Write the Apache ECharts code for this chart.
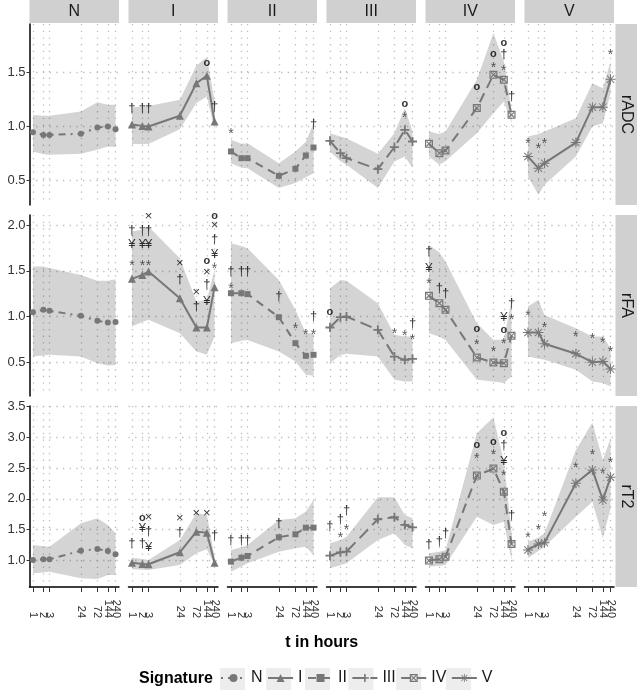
<!DOCTYPE html>
<html><head><meta charset="utf-8">
<script src="https://cdn.jsdelivr.net/npm/echarts@6/dist/echarts.min.js"></script>
<style>html,body{margin:0;padding:0;background:#fff}#c{width:638px;height:695px}</style>
</head><body><div id="c"></div><script>
// ---------- data ----------
const hours = [1, 2, 3, 24, 72, 144, 240];
const hourLabels = ['1', '2', '3', '24', '72', '144', '240'];
const signatures = ['N', 'I', 'II', 'III', 'IV', 'V'];
const measures = ['rADC', 'rFA', 'rT2'];
const rADC_ticks = [0.5, 1.0, 1.5];
const rFA_ticks = [0.5, 1.0, 1.5, 2.0];
const rT2_ticks = [1.0, 1.5, 2.0, 2.5, 3.0, 3.5];

// mean / lower / upper per signature (rows: N, I, II, III, IV, V)
const rADC_mean = [
  [0.948, 0.923, 0.923, 0.933, 0.990, 1.000, 0.976],
  [1.018, 1.006, 1.000, 1.100, 1.400, 1.468, 1.046],
  [0.770, 0.708, 0.708, 0.545, 0.610, 0.733, 0.806],
  [0.868, 0.754, 0.708, 0.607, 0.810, 0.970, 0.862],
  [0.840, 0.754, 0.779, 1.170, 1.477, 1.431, 1.108],
  [0.723, 0.616, 0.662, 0.852, 1.179, 1.179, 1.437]];
const rADC_lo = [
  [0.770, 0.745, 0.739, 0.748, 0.785, 0.815, 0.810],
  [0.838, 0.838, 0.838, 0.976, 1.216, 1.277, 0.970],
  [0.662, 0.620, 0.616, 0.432, 0.478, 0.533, 0.570],
  [0.770, 0.680, 0.647, 0.432, 0.677, 0.723, 0.616],
  [0.723, 0.647, 0.680, 0.939, 1.123, 1.230, 1.030],
  [0.539, 0.370, 0.462, 0.723, 1.000, 1.031, 1.308]];
const rADC_hi = [
  [1.107, 1.100, 1.099, 1.138, 1.225, 1.200, 1.200],
  [1.179, 1.185, 1.190, 1.246, 1.563, 1.640, 1.240],
  [0.877, 0.840, 0.846, 0.662, 0.770, 0.860, 1.030],
  [0.939, 0.908, 0.893, 0.748, 0.939, 1.170, 0.954],
  [0.954, 0.930, 0.954, 1.431, 1.862, 1.600, 1.154],
  [0.908, 0.930, 0.954, 1.077, 1.400, 1.354, 1.600]];

const rFA_mean = [
  [1.048, 1.073, 1.062, 1.008, 0.953, 0.935, 0.940],
  [1.412, 1.455, 1.491, 1.200, 0.880, 0.880, 1.321],
  [1.255, 1.255, 1.245, 0.993, 0.709, 0.571, 0.582],
  [0.880, 0.993, 1.000, 0.855, 0.563, 0.527, 0.538],
  [1.226, 1.146, 1.073, 0.553, 0.498, 0.491, 0.789],
  [0.825, 0.825, 0.702, 0.593, 0.502, 0.509, 0.426]];
const rFA_lo = [
  [0.563, 0.575, 0.582, 0.563, 0.491, 0.465, 0.470],
  [0.891, 0.940, 0.964, 0.818, 0.618, 0.582, 0.780],
  [0.709, 0.735, 0.745, 0.618, 0.509, 0.364, 0.353],
  [0.491, 0.580, 0.593, 0.563, 0.309, 0.290, 0.290],
  [0.818, 0.780, 0.745, 0.309, 0.290, 0.273, 0.345],
  [0.563, 0.540, 0.527, 0.418, 0.290, 0.273, 0.236]];
const rFA_hi = [
  [1.546, 1.546, 1.530, 1.455, 1.390, 1.390, 1.408],
  [1.928, 1.950, 1.983, 1.637, 1.164, 1.182, 1.510],
  [1.801, 1.770, 1.747, 1.400, 1.073, 0.818, 0.818],
  [1.310, 1.400, 1.390, 1.146, 0.800, 0.782, 0.782],
  [1.783, 1.700, 1.600, 0.927, 0.746, 0.746, 1.182],
  [1.109, 1.182, 1.018, 0.873, 0.782, 0.782, 0.655]];

const rT2_mean = [
  [1.005, 1.016, 1.016, 1.156, 1.184, 1.151, 1.098],
  [0.961, 0.940, 0.935, 1.130, 1.466, 1.450, 0.961],
  [0.978, 1.042, 1.070, 1.375, 1.423, 1.531, 1.531],
  [1.075, 1.130, 1.140, 1.668, 1.700, 1.575, 1.537],
  [0.995, 1.016, 1.059, 2.378, 2.492, 2.117, 1.265],
  [1.168, 1.265, 1.287, 2.254, 2.471, 1.982, 2.352]];
const rT2_lo = [
  [0.788, 0.800, 0.815, 0.707, 0.695, 0.760, 0.760],
  [0.853, 0.845, 0.842, 0.923, 1.114, 1.179, 0.923],
  [0.815, 0.900, 0.951, 1.140, 1.195, 1.222, 1.086],
  [0.870, 0.920, 0.951, 1.330, 1.440, 1.249, 1.195],
  [0.896, 0.910, 0.923, 1.710, 1.575, 1.629, 1.000],
  [1.033, 1.150, 1.222, 1.710, 1.954, 1.358, 1.847]];
const rT2_hi = [
  [1.249, 1.230, 1.222, 1.603, 1.684, 1.575, 1.440],
  [1.042, 1.020, 1.005, 1.330, 1.765, 1.738, 1.060],
  [1.168, 1.210, 1.249, 1.656, 1.684, 1.792, 1.982],
  [1.277, 1.330, 1.384, 2.026, 2.026, 1.738, 1.684],
  [1.114, 1.140, 1.168, 3.068, 3.329, 2.606, 1.450],
  [1.303, 1.370, 1.440, 2.796, 3.241, 2.633, 2.987]];

// significance marks: [signature index, hour index, y, symbol]
const rADC_marks = [
  [1,0,1.17,'†'],[1,1,1.17,'†'],[1,2,1.17,'†'],[1,5,1.585,'o'],[1,6,1.185,'†'],
  [2,0,0.954,'*'],[2,6,1.016,'†'],
  [3,5,1.108,'*'],[3,5,1.21,'o'],
  [4,3,1.363,'o'],[4,4,1.569,'*'],[4,4,1.67,'o'],[4,5,1.539,'*'],[4,5,1.661,'†'],[4,5,1.775,'o'],[4,6,1.277,'†'],
  [5,0,0.868,'*'],[5,1,0.822,'*'],[5,2,0.868,'*'],[5,6,1.683,'*']];
const rFA_marks = [
  [1,0,1.583,'*'],[1,0,1.783,'¥'],[1,0,1.946,'†'],
  [1,1,1.583,'*'],[1,1,1.783,'¥'],[1,1,1.946,'†'],
  [1,2,1.583,'*'],[1,2,1.783,'¥'],[1,2,1.946,'†'],[1,2,2.09,'×'],
  [1,3,1.41,'†'],[1,3,1.575,'×'],
  [1,4,1.11,'†'],[1,4,1.262,'×'],
  [1,5,1.164,'¥'],[1,5,1.346,'†'],[1,5,1.48,'×'],[1,5,1.608,'o'],
  [1,6,1.546,'*'],[1,6,1.681,'¥'],[1,6,1.837,'†'],[1,6,1.99,'×'],[1,6,2.10,'o'],
  [2,0,1.335,'*'],[2,0,1.491,'†'],[2,1,1.491,'†'],[2,2,1.491,'†'],[2,3,1.218,'†'],
  [2,4,0.898,'*'],[2,5,0.825,'*'],[2,6,0.825,'*'],[2,6,1.0,'†'],
  [3,0,1.055,'o'],[3,4,0.836,'*'],[3,5,0.818,'*'],[3,6,0.771,'*'],[3,6,0.927,'†'],
  [4,0,1.382,'*'],[4,0,1.528,'¥'],[4,0,1.71,'†'],[4,1,1.31,'†'],[4,2,1.255,'†'],
  [4,3,0.716,'*'],[4,3,0.862,'o'],[4,4,0.644,'*'],
  [4,5,0.735,'*'],[4,5,0.855,'o'],[4,5,0.993,'¥'],[4,6,0.993,'*'],[4,6,1.146,'†'],
  [5,0,1.037,'*'],[5,2,0.909,'*'],[5,3,0.811,'*'],[5,4,0.782,'*'],[5,5,0.746,'*'],[5,6,0.647,'*']];
const rT2_marks = [
  [1,0,1.277,'†'],[1,1,1.277,'†'],[1,1,1.521,'¥'],[1,1,1.694,'o'],
  [1,2,1.205,'¥'],[1,2,1.466,'†'],[1,2,1.694,'×'],
  [1,3,1.45,'†'],[1,3,1.684,'×'],[1,4,1.765,'×'],[1,5,1.765,'×'],[1,6,1.40,'†'],
  [2,0,1.33,'†'],[2,1,1.33,'†'],[2,2,1.33,'†'],[2,3,1.603,'†'],
  [3,0,1.547,'†'],[3,1,1.412,'*'],[3,1,1.668,'†'],[3,2,1.547,'*'],[3,2,1.808,'†'],
  [4,0,1.265,'†'],[4,1,1.303,'†'],[4,2,1.44,'†'],
  [4,3,2.699,'*'],[4,3,2.878,'o'],[4,4,2.752,'*'],[4,4,2.932,'o'],
  [4,5,2.417,'*'],[4,5,2.617,'¥'],[4,5,2.862,'†'],[4,5,3.078,'o'],[4,6,1.738,'†'],
  [5,0,1.412,'*'],[5,1,1.547,'*'],[5,2,1.749,'*'],[5,3,2.552,'*'],[5,4,2.752,'*'],[5,5,2.443,'*'],[5,6,2.633,'*']];

// ---------- layout / style ----------
const FONT = '"Liberation Sans", Arial, Helvetica, sans-serif';
const PANEL_LEFT0 = 29.5, COL_STEP = 99, PANEL_W = 89.5;
const ROW_TOP = [24, 215, 406], PANEL_H = 181;
const X_RANGE = [-0.0996, 2.4798];           // log10(hours) axis extent
const Y_RANGE = [[0.276, 1.946], [0.132, 2.109], [0.565, 3.511]];
const LINE_COLOR = '#777777';
const GRID_LINE = {color: '#bdbdbd', width: 1.3, type: [1.3, 5.4]};
const SYMBOLS = [
  'circle', 'triangle', 'rect',
  'path://M4,0H6V4H10V6H6V10H4V6H0V4H4Z',
  'path://M0,0H10V10H0Z M1.5,1.5V8.5H8.5V1.5Z M1.5,2.5L2.5,1.5L8.5,7.5L7.5,8.5Z M7.5,1.5L8.5,2.5L2.5,8.5L1.5,7.5Z',
  'path://M4.5,0H5.5V10H4.5Z M0,4.5H10V5.5H0Z M1,1.7L1.7,1L9,8.3L8.3,9Z M8.3,1L9,1.7L1.7,9L1,8.3Z'];
const SYM_SIZE = [6, 8, 6, 9, 8, 10];
const DASHES = [[2, 5, 7, 5], 'solid', [8, 6], [12, 6], [10, 6], 'solid'];

const data = {
  rADC: {mean: rADC_mean, lo: rADC_lo, hi: rADC_hi, marks: rADC_marks, ticks: rADC_ticks},
  rFA: {mean: rFA_mean, lo: rFA_lo, hi: rFA_hi, marks: rFA_marks, ticks: rFA_ticks},
  rT2: {mean: rT2_mean, lo: rT2_lo, hi: rT2_hi, marks: rT2_marks, ticks: rT2_ticks}
};
const logHours = hours.map(h => Math.log10(h));
// labels are split over two stacked bottom axes so close neighbours are never culled
const labelSetA = logHours.filter((v, i) => i % 2 === 0 || i === 3);   // 1, 3, 24, 72, 240
const labelSetB = logHours.filter((v, i) => i === 1 || i === 5);       // 2, 144
const hourLabelFor = v => {
  for (let i = 0; i < logHours.length; i++) if (Math.abs(logHours[i] - v) < 1e-6) return hourLabels[i];
  return '';
};
const xLabelStyle = (show, values) => ({show: show, customValues: values, interval: 0, rotate: -90,
  align: 'right', verticalAlign: 'middle', margin: 31, fontSize: 11, color: '#333', fontFamily: FONT,
  hideOverlap: false, showMinLabel: true, showMaxLabel: true, formatter: v => hourLabelFor(v)});

const grids = [], xAxes = [], extraX = [], yAxes = [], series = [], graphics = [];

measures.forEach((m, r) => {
  const d = data[m];
  signatures.forEach((s, c) => {
    const idx = r * 6 + c;
    const bottom = r === 2, first = c === 0;
    grids.push({left: PANEL_LEFT0 + c * COL_STEP, top: ROW_TOP[r], width: PANEL_W, height: PANEL_H, containLabel: false});
    xAxes.push({
      type: 'value', gridIndex: idx, position: 'bottom', min: X_RANGE[0], max: X_RANGE[1],
      axisLine: {show: bottom, onZero: false, lineStyle: {color: '#000', width: 1.5}},
      axisTick: {show: bottom, customValues: logHours, length: 5, lineStyle: {color: '#333', width: 1}},
      axisLabel: xLabelStyle(bottom, labelSetA),
      splitLine: {show: true, lineStyle: GRID_LINE}
    });
    if (bottom) {
      extraX.push({
        type: 'value', gridIndex: idx, position: 'bottom', min: X_RANGE[0], max: X_RANGE[1],
        axisLine: {show: false, onZero: false}, axisTick: {show: false, customValues: labelSetB},
        axisLabel: xLabelStyle(true, labelSetB), splitLine: {show: false}
      });
    }
    yAxes.push({
      type: 'value', gridIndex: idx, min: Y_RANGE[r][0], max: Y_RANGE[r][1],
      axisLine: {show: first, onZero: false, lineStyle: {color: '#000', width: 1.5}},
      axisTick: {show: first, customValues: d.ticks, length: 3, lineStyle: {color: '#333', width: 1}},
      axisLabel: {show: first, customValues: d.ticks, interval: 0, fontSize: 13, margin: 4, color: '#333', fontFamily: FONT,
        hideOverlap: false, showMinLabel: true, showMaxLabel: true, formatter: v => v.toFixed(1)},
      splitLine: {show: true, lineStyle: GRID_LINE}
    });
    // ribbon
    const band = hours.map((h, i) => [Math.log10(h), d.lo[c][i], d.hi[c][i]]);
    series.push({
      type: 'custom', xAxisIndex: idx, yAxisIndex: idx, silent: true, z: 1, data: band,
      renderItem: (params, api) => {
        if (params.dataIndex !== 0) return null;
        const pts = band.map(p => api.coord([p[0], p[2]]))
          .concat(band.slice().reverse().map(p => api.coord([p[0], p[1]])));
        return {type: 'polygon', shape: {points: pts}, style: {fill: 'rgba(0,0,0,0.17)'}};
      }
    });
    // mean line
    series.push({
      type: 'line', name: s, xAxisIndex: idx, yAxisIndex: idx, z: 3, silent: true,
      data: hours.map((h, i) => [Math.log10(h), d.mean[c][i]]),
      symbol: SYMBOLS[c], symbolSize: SYM_SIZE[c], showSymbol: true,
      itemStyle: {color: LINE_COLOR, borderWidth: 0},
      lineStyle: {color: LINE_COLOR, width: 2, type: DASHES[c]}
    });
    // significance marks
    const mk = d.marks.filter(k => k[0] === c);
    if (mk.length) {
      series.push({
        type: 'scatter', xAxisIndex: idx, yAxisIndex: idx, z: 5, silent: true, symbolSize: 1,
        itemStyle: {color: 'rgba(0,0,0,0)'},
        data: mk.map(k => ({
          value: [logHours[k[1]], k[2]], s: k[3],
          label: k[3] === '*' ? {offset: [0, 3], color: '#333', fontSize: 14}
               : k[3] === 'o' ? {fontWeight: 'bold', fontSize: 11} : {}
        })),
        label: {show: true, position: 'inside', formatter: p => p.data.s, fontSize: 13, color: '#000', fontFamily: FONT}
      });
    }
  });
  // right strip
  graphics.push({type: 'rect', shape: {x: 615.5, y: ROW_TOP[r], width: 21.5, height: PANEL_H}, style: {fill: '#d0d0d0'}});
  graphics.push({type: 'text', x: 626.5, y: ROW_TOP[r] + PANEL_H / 2, rotation: -Math.PI / 2,
    style: {text: m, font: '16px ' + FONT, fill: '#1a1a1a', align: 'center', verticalAlign: 'middle'}});
});

// top strips
signatures.forEach((s, c) => {
  const x = PANEL_LEFT0 + c * COL_STEP;
  graphics.push({type: 'rect', shape: {x: x, y: 0, width: PANEL_W, height: 23}, style: {fill: '#d0d0d0'}});
  graphics.push({type: 'text', x: x + PANEL_W / 2, y: 12,
    style: {text: s, font: '16px ' + FONT, fill: '#1a1a1a', align: 'center', verticalAlign: 'middle'}});
});

// axis title & legend title
graphics.push({type: 'text', x: PANEL_LEFT0 + (5 * COL_STEP + PANEL_W) / 2, y: 643,
  style: {text: 't in hours', font: 'bold 16px ' + FONT, fill: '#000', align: 'center', verticalAlign: 'middle'}});
graphics.push({type: 'text', x: 139, y: 679,
  style: {text: 'Signature', font: 'bold 16px ' + FONT, fill: '#000', align: 'left', verticalAlign: 'middle'}});

// legend key backgrounds
const LEG_LEFT = 220, LEG_ITEM_W = 25, LEG_GAP = 4.5;
const ctx = document.createElement('canvas').getContext('2d');
ctx.font = '16px ' + FONT;
let lx = LEG_LEFT;
signatures.forEach(s => {
  graphics.push({type: 'rect', z: -1, shape: {x: lx, y: 668, width: LEG_ITEM_W, height: 22}, style: {fill: '#ededed'}});
  lx += LEG_ITEM_W + 5 + ctx.measureText(s).width + LEG_GAP;
});

const chart = echarts.init(document.getElementById('c'), null, {renderer: 'canvas'});
chart.setOption({
  animation: false,
  backgroundColor: '#fff',
  textStyle: {fontFamily: FONT},
  grid: grids, xAxis: xAxes.concat(extraX), yAxis: yAxes, series: series,
  legend: {
    data: signatures, left: LEG_LEFT, top: 670, padding: 0, itemWidth: LEG_ITEM_W, itemHeight: 10,
    itemGap: LEG_GAP, selectedMode: false, textStyle: {fontSize: 16, color: '#1a1a1a', fontFamily: FONT}
  },
  graphic: graphics
});
</script></body></html>
